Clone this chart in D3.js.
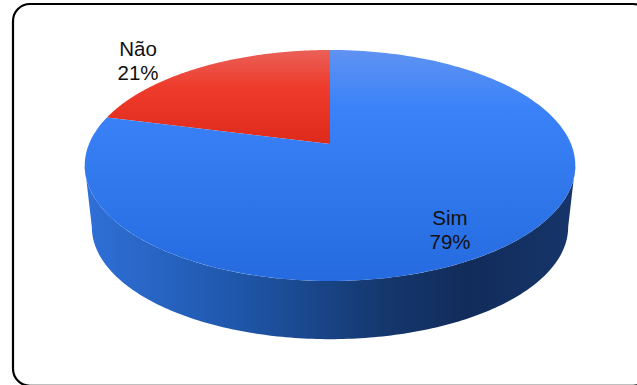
<!DOCTYPE html>
<html>
<head>
<meta charset="utf-8">
<style>
html, body { margin: 0; padding: 0; background: #fff; }
svg { display: block; }
text { font-family: "Liberation Sans", Arial, sans-serif; font-size: 20.5px; fill: #111; text-anchor: middle; }
</style>
</head>
<body>
<div id="chart"></div>
<script src="https://cdn.jsdelivr.net/npm/d3@7"></script>
<script>
const categories = ["Não", "Sim"];
const shares = [21, 79];
const sliceColors = [
  ["#ea6058", "#ee3b2b", "#dd2a1a"],
  ["#5f92f2", "#3b82f8", "#256bdf"]
];
const sideStops = [
  [0, "#2f6fd6"], [0.3, "#1f57ab"], [0.6, "#15386f"], [0.78, "#112c5a"], [1, "#17356a"]
];
const labelAnchors = [[138, 49], [450, 218]];

const width = 637, height = 385;
const svg = d3.select("#chart").append("svg").attr("width", width).attr("height", height);
const defs = svg.append("defs");

// Frame: rounded box slightly wider and taller than the page
svg.append("rect")
  .attr("x", 13).attr("y", 4).attr("width", 637).attr("height", 381.8)
  .attr("rx", 17).attr("fill", "#fff").attr("stroke", "#000").attr("stroke-width", 2.2);

// Perspective disc: unit circle mapped through a projective transform
const persp = 0.186;
const topFace = { cx: 330, cy: 144, a: 241, b: 111.5 };
const depthScale = 0.971;
const rimCentreTop = topFace.cy + topFace.b * persp / (1 - persp * persp);
const rimCentreBottom = 227;

function projectTop(theta) {
  const u = Math.sin(theta), v = -Math.cos(theta), w = 1 - persp * v;
  return [topFace.cx + topFace.a * u / w, topFace.cy + topFace.b * v / w];
}
function projectBottom(theta) {
  const [x, y] = projectTop(theta);
  return [topFace.cx + (x - topFace.cx) * depthScale, rimCentreBottom + (y - rimCentreTop) * depthScale];
}

const turn = 2 * Math.PI;
const pie = d3.pie().sort(null).startAngle(-shares[0] / 100 * turn).endAngle((1 - shares[0] / 100) * turn);
const slices = pie(shares);
const line = d3.line();
const sample = (a0, a1, n = 180) => d3.range(n + 1).map(i => a0 + (a1 - a0) * i / n);

// Side wall: front part of the rim between the two points where the outline is widest
const wallFrom = Math.PI / 2 + Math.asin(persp);
const wallTo = 3 * Math.PI / 2 - Math.asin(persp);
const sideGrad = defs.append("linearGradient").attr("id", "side")
  .attr("gradientUnits", "userSpaceOnUse").attr("x1", 90).attr("x2", 572).attr("y1", 0).attr("y2", 0);
sideGrad.selectAll("stop").data(sideStops).join("stop")
  .attr("offset", d => d[0]).attr("stop-color", d => d[1]);

const wallPath = sample(wallFrom, wallTo).map(projectTop)
  .concat(sample(wallTo, wallFrom).map(projectBottom));
svg.append("path").attr("d", line(wallPath) + "Z").attr("fill", "url(#side)");

// Top face slices, each shaded over its own vertical extent
slices.forEach((s, i) => {
  const id = "face" + i;
  const outline = [[topFace.cx, topFace.cy]].concat(sample(s.startAngle, s.endAngle).map(projectTop));
  const [yMin, yMax] = d3.extent(outline, p => p[1]);
  const g = defs.append("linearGradient").attr("id", id)
    .attr("gradientUnits", "userSpaceOnUse").attr("x1", 0).attr("x2", 0)
    .attr("y1", yMin).attr("y2", yMax);
  g.selectAll("stop").data([0, i === 0 ? 0.4 : 0.25, 1]).join("stop")
    .attr("offset", d => d).attr("stop-color", (d, j) => sliceColors[i][j]);
  svg.append("path").attr("d", line(outline) + "Z").attr("fill", "url(#" + id + ")");
});

// Labels: category name above its percentage
categories.forEach((c, i) => {
  const t = svg.append("text").attr("x", labelAnchors[i][0]).attr("y", labelAnchors[i][1] + 7);
  t.append("tspan").attr("x", labelAnchors[i][0]).text(c);
  t.append("tspan").attr("x", labelAnchors[i][0]).attr("dy", 24).text(shares[i] + "%");
});
</script>
</body>
</html>
